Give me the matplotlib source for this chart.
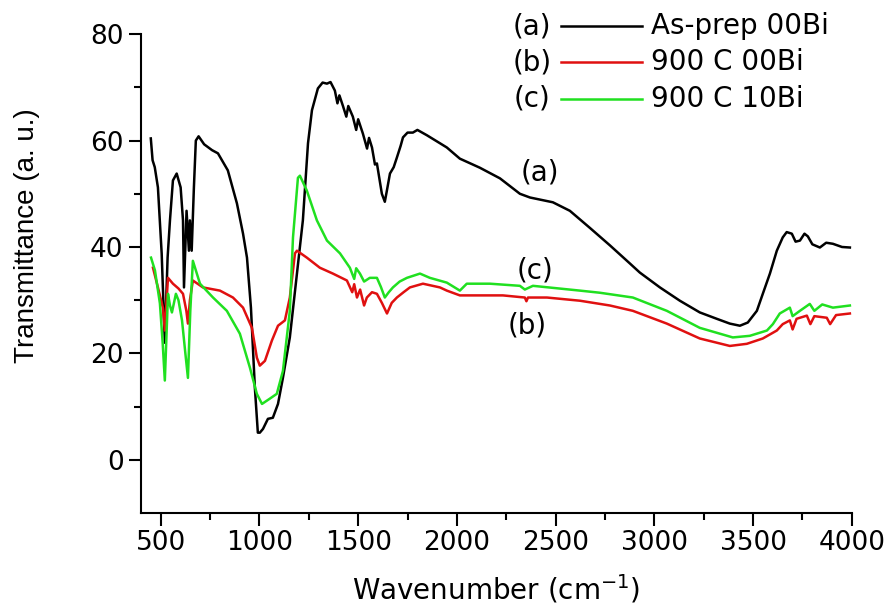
import numpy as np
import matplotlib.pyplot as plt

# (a) As-prep 00Bi
wn_a = [450, 459, 470, 486, 505, 521, 535, 547, 562, 581, 601, 613, 618, 631, 643, 648, 657, 668, 678,
        692, 720, 760, 790, 840, 886, 917, 937, 957, 977, 992, 1002, 1018, 1043, 1068, 1094, 1119,
        1154, 1190, 1220, 1246, 1266, 1296, 1320, 1342, 1360, 1382, 1395, 1405, 1423, 1440, 1450,
        1473, 1490, 1500, 1524, 1545, 1555, 1570, 1585, 1595, 1620, 1635, 1645, 1661, 1680, 1696,
        1715, 1727, 1750, 1777, 1800, 1848, 1914, 1949, 2015, 2116, 2218, 2319, 2370, 2486, 2572,
        2673, 2775, 2876, 2926, 3028, 3129, 3230, 3316, 3382, 3433, 3473, 3519, 3549, 3585, 3620,
        3650, 3670, 3696, 3715, 3737, 3760, 3777, 3800, 3838, 3870, 3904, 3950, 3990]
tr_a = [60.4, 56.3, 55.0, 51.2, 38.8, 22.0, 38.0, 45.0, 52.5, 53.8, 51.2, 45.0, 32.4, 46.8, 39.3, 45.0,
        39.3, 51.0, 60.0, 60.8, 59.3, 58.2, 57.6, 54.4, 48.2, 42.5, 38.0, 28.6, 13.5, 5.1, 5.1, 5.8,
        7.7, 7.9, 10.5, 15.4, 23.0, 35.0, 45.0, 59.5, 65.7, 69.8, 70.9, 70.7, 71.0, 69.4, 67.0, 68.5,
        66.5, 64.5, 66.5, 64.5, 62.0, 64.0, 61.3, 58.5, 60.5, 58.7, 55.5, 55.7, 50.0, 48.5, 50.5,
        53.8, 55.0, 56.8, 59.0, 60.6, 61.5, 61.5, 62.0, 61.0, 59.5, 58.7, 56.6, 54.9, 52.9, 50.0,
        49.3, 48.4, 46.8, 43.6, 40.3, 36.9, 35.2, 32.4, 29.9, 27.7, 26.5, 25.6, 25.2, 25.8, 28.0,
        31.2, 35.0, 39.3, 41.8, 42.8, 42.5, 41.0, 41.2, 42.5, 42.0, 40.5, 39.9, 40.8, 40.6, 40.0, 39.9]

# (b) 900 C 00Bi
wn_b = [461, 486, 511, 521, 530, 537, 562, 590, 613, 630, 638, 648, 663, 714, 800, 866, 917, 962, 987,
        1002, 1028, 1063, 1094, 1129, 1154, 1180, 1190, 1240, 1306, 1372, 1443, 1470, 1480, 1494,
        1510, 1530, 1544, 1570, 1595, 1620, 1646, 1670, 1696, 1730, 1762, 1828, 1914, 1949, 2015,
        2116, 2233, 2344, 2352, 2360, 2456, 2623, 2775, 2891, 3063, 3230, 3382, 3468, 3549, 3620,
        3650, 3686, 3700, 3720, 3772, 3790, 3810, 3873, 3890, 3920, 3990]
tr_b = [36.1, 32.4, 28.6, 24.3, 30.0, 34.2, 33.1, 32.2, 31.2, 28.0, 25.6, 30.0, 33.7, 32.4, 31.8, 30.5,
        28.6, 24.8, 19.2, 17.7, 18.6, 22.4, 25.2, 26.2, 30.5, 38.8, 39.3, 38.0, 36.1, 35.0, 33.7,
        31.5, 33.0, 30.5, 32.0, 29.0, 30.5, 31.5, 31.2, 29.5, 27.5, 29.5, 30.5, 31.5, 32.4, 33.1,
        32.4, 31.8, 30.9, 30.9, 30.9, 30.5, 29.8, 30.5, 30.5, 29.9, 29.0, 28.0, 25.6, 22.8, 21.4,
        21.8, 22.8, 24.3, 25.5, 26.2, 24.5, 26.5, 27.1, 25.5, 27.0, 26.7, 25.5, 27.2, 27.5]

# (c) 900 C 10Bi
wn_c = [451, 471, 496, 510, 521, 530, 537, 547, 557, 577, 590, 608, 625, 638, 650, 663, 699, 765, 835,
        901, 952, 987, 1013, 1053, 1088, 1119, 1154, 1170, 1195, 1205, 1240, 1291, 1342, 1408, 1458,
        1480, 1490, 1509, 1530, 1559, 1595, 1615, 1635, 1655, 1676, 1710, 1747, 1813, 1863, 1949,
        2015, 2050, 2167, 2319, 2344, 2385, 2623, 2724, 2891, 3063, 3230, 3397, 3483, 3570, 3600,
        3635, 3686, 3700, 3737, 3787, 3810, 3850, 3904, 3990]
tr_c = [38.0, 35.6, 29.4, 22.0, 14.9, 24.0, 31.2, 29.0, 27.7, 31.2, 30.0, 26.2, 20.0, 15.4, 28.0, 37.4,
        33.1, 30.5, 28.0, 23.7, 17.3, 12.4, 10.5, 11.5, 12.4, 16.7, 28.0, 41.8, 53.0, 53.4, 50.6,
        45.0, 41.2, 38.8, 36.1, 34.0, 36.0, 35.0, 33.5, 34.2, 34.2, 32.5, 30.5, 31.5, 32.4, 33.5,
        34.2, 35.0, 34.2, 33.3, 31.8, 33.1, 33.1, 32.7, 32.0, 32.7, 31.8, 31.4, 30.5, 28.0, 24.8,
        23.0, 23.3, 24.3, 25.5, 27.5, 28.6, 27.0, 28.0, 29.3, 28.0, 29.2, 28.6, 29.0]

tags = ['(a)', '(b)', '(c)']
names = ['As-prep 00Bi', '900 C 00Bi', '900 C 10Bi']
colors = ['black', '#e01010', '#20e020']


def main():
    # horizontal text looks stretched in the original -> wider DejaVu for it
    plt.rcParams['font.family'] = ['DejaVu Sans']
    fig = plt.figure(figsize=(8.92, 6.10), dpi=100)
    ax = fig.add_axes([0.158, 0.159, 0.797, 0.785])

    for wn, tr, c in zip([wn_a, wn_b, wn_c], [tr_a, tr_b, tr_c], colors):
        ax.plot(wn, tr, color=c, lw=1.8)

    ax.set_xlim(400, 4000)
    ax.set_ylim(-10, 80)
    ax.set_xticks(np.arange(500, 4001, 500))
    ax.set_xticks(np.arange(750, 4000, 500), minor=True)
    ax.set_yticks(np.arange(0, 81, 20))
    ax.set_yticks(np.arange(10, 80, 20), minor=True)
    ax.tick_params(which='major', direction='out', length=9, width=1.5, labelsize=19)
    ax.tick_params(which='minor', direction='out', length=5, width=1.5)
    for s in ['top', 'right']:
        ax.spines[s].set_visible(False)
    for s in ['left', 'bottom']:
        ax.spines[s].set_linewidth(1.5)

    ax.set_xlabel('Wavenumber (cm$^{-1}$)', fontsize=20, labelpad=12)
    fig.text(27 / 892, 1 - 236 / 610, 'Transmittance (a. u.)', fontsize=20, rotation=90,
             ha='center', va='center', family='Liberation Sans')

    # curve tags
    ax.text(2420, 54, '(a)', fontsize=20, ha='center', va='center')
    ax.text(2395, 35.6, '(c)', fontsize=20, ha='center', va='center')
    ax.text(2354, 25.2, '(b)', fontsize=20, ha='center', va='center')

    # legend drawn by hand: "(a) ----- name"
    W, H = 892, 610
    rows = [26, 62, 99]
    for t, n, c, y in zip(tags, names, colors, rows):
        fy = 1 - y / H
        fig.text(532 / W, fy, t, fontsize=20, ha='center', va='center')
        fig.add_artist(plt.Line2D([561 / W, 642 / W], [fy, fy], color=c, lw=1.8))
        fig.text(651 / W, fy, n, fontsize=20, ha='left', va='center')

    fig.savefig('out.png', dpi=100)


if __name__ == '__main__':
    main()
